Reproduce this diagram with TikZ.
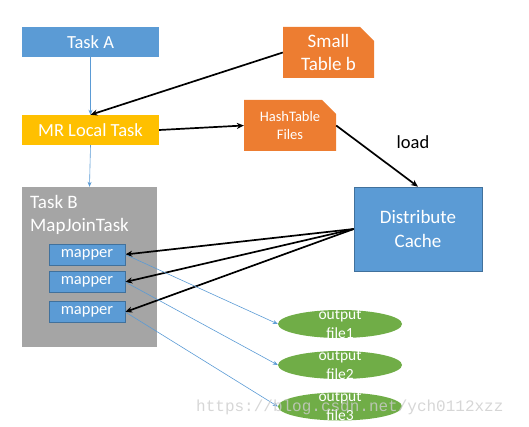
\documentclass[tikz,border=0pt]{standalone}
\usepackage{fontspec}
\setmainfont{Carlito}
\newfontfamily\wmfont{Liberation Mono}
\usetikzlibrary{arrows.meta,shapes.misc,shapes.geometric}
\definecolor{cblue}{HTML}{5B9BD5}
\definecolor{cblueedge}{HTML}{41719C}
\definecolor{corange}{HTML}{ED7D31}
\definecolor{cyellow}{HTML}{FFC000}
\definecolor{cgray}{HTML}{A5A5A5}
\definecolor{cgreen}{HTML}{70AD47}
\tikzset{
  box/.style={rectangle, draw=none, text=white, inner sep=0pt, align=center},
  snip/.style={chamfered rectangle, chamfered rectangle corners=north east, chamfered rectangle xsep=7pt, chamfered rectangle ysep=7pt, fill=corange, draw=none, text=white, inner sep=0pt, align=center},
  thick arrow/.style={line width=1.7pt, -{Stealth[length=7pt,width=6pt]}},
  thin arrow/.style={cblue, line width=0.6pt, -{Stealth[length=5pt,width=4pt]}},
  mapbox/.style={box, fill=cblue, draw=cblueedge, line width=0.6pt, minimum width=76pt, minimum height=21pt, font=\fontsize{16.5}{19}\selectfont},
  outfile/.style={ellipse, fill=cgreen, draw=none, minimum width=124pt, minimum height=28pt, inner sep=0pt},
  outtext/.style={text=white, align=center, inner sep=0pt, font=\fontsize{15.5}{19}\selectfont},
}
\begin{document}
\begin{tikzpicture}[x=1pt,y=-1pt]
\useasboundingbox (0,0) rectangle (529,427);
% boxes
\node[box, fill=cblue, minimum width=137pt, minimum height=30pt, font=\fontsize{18.5}{21}\selectfont] (ta) at (90.5,42) {Task A};
\node[box, fill=cyellow, minimum width=137pt, minimum height=30pt, font=\fontsize{18.5}{21}\selectfont] (mr) at (90.5,130) {MR Local Task};
\node[snip, minimum width=91pt, minimum height=51pt, font=\fontsize{19}{22.5}\selectfont] (st) at (328.5,52.5) {Small\\Table b};
\node[snip, minimum width=92pt, minimum height=51pt, font=\fontsize{14.5}{18.5}\selectfont] (ht) at (290,125.5) {HashTable\\Files};
\node[font=\fontsize{18.5}{21}\selectfont] (ld) at (413,142) {load};
\node[box, fill=cgray, minimum width=135pt, minimum height=160pt] (tb) at (89.5,267) {};
\node[anchor=north west, text=white, align=left, inner sep=0pt, font=\fontsize{19}{23}\selectfont] (tbl) at (30,195) {Task B\\MapJoinTask};
\node[mapbox] (m1) at (87,254.5) {mapper};
\node[mapbox] (m2) at (87,282) {mapper};
\node[mapbox] (m3) at (87,312) {mapper};
\node[box, fill=cblue, draw=cblueedge, line width=0.6pt, minimum width=128pt, minimum height=84pt, font=\fontsize{19}{24}\selectfont] (dc) at (418,229) {Distribute\\Cache};
\node[outfile] (o1) at (340,324) {};
\node[outfile] (o2) at (340,365) {};
\node[outfile] (o3) at (340,406.5) {};
\node[outtext] (t1) at (o1) {output\\file1};
\node[outtext] (t2) at (o2) {output\\file2};
\node[outtext] (t3) at (o3) {output\\file3};
% connectors
\draw[thin arrow] (ta.south) -- (mr.north);
\draw[thin arrow] (mr.south) -- (tb.north);
\draw[thick arrow] (st.west) -- (mr.north);
\draw[thick arrow] (mr.east) -- (ht.west);
\draw[thick arrow] (ht.east) -- (dc.north);
\draw[thick arrow] (dc.west) -- (m1.east);
\draw[thick arrow] (dc.west) -- (m2.east);
\draw[thick arrow] (dc.west) -- (m3.east);
\draw[thin arrow] (m1.east) -- (o1.west);
\draw[thin arrow] (m2.east) -- (o2.west);
\draw[thin arrow] (m3.east) -- (o3.west);
% watermark
\node[anchor=west, inner sep=0pt, text=gray!40, opacity=0.8, font=\wmfont\fontsize{16}{16}\selectfont] (wm) at (196,407) {https://blog.csdn.net/ych0112xzz};
\end{tikzpicture}
\end{document}
